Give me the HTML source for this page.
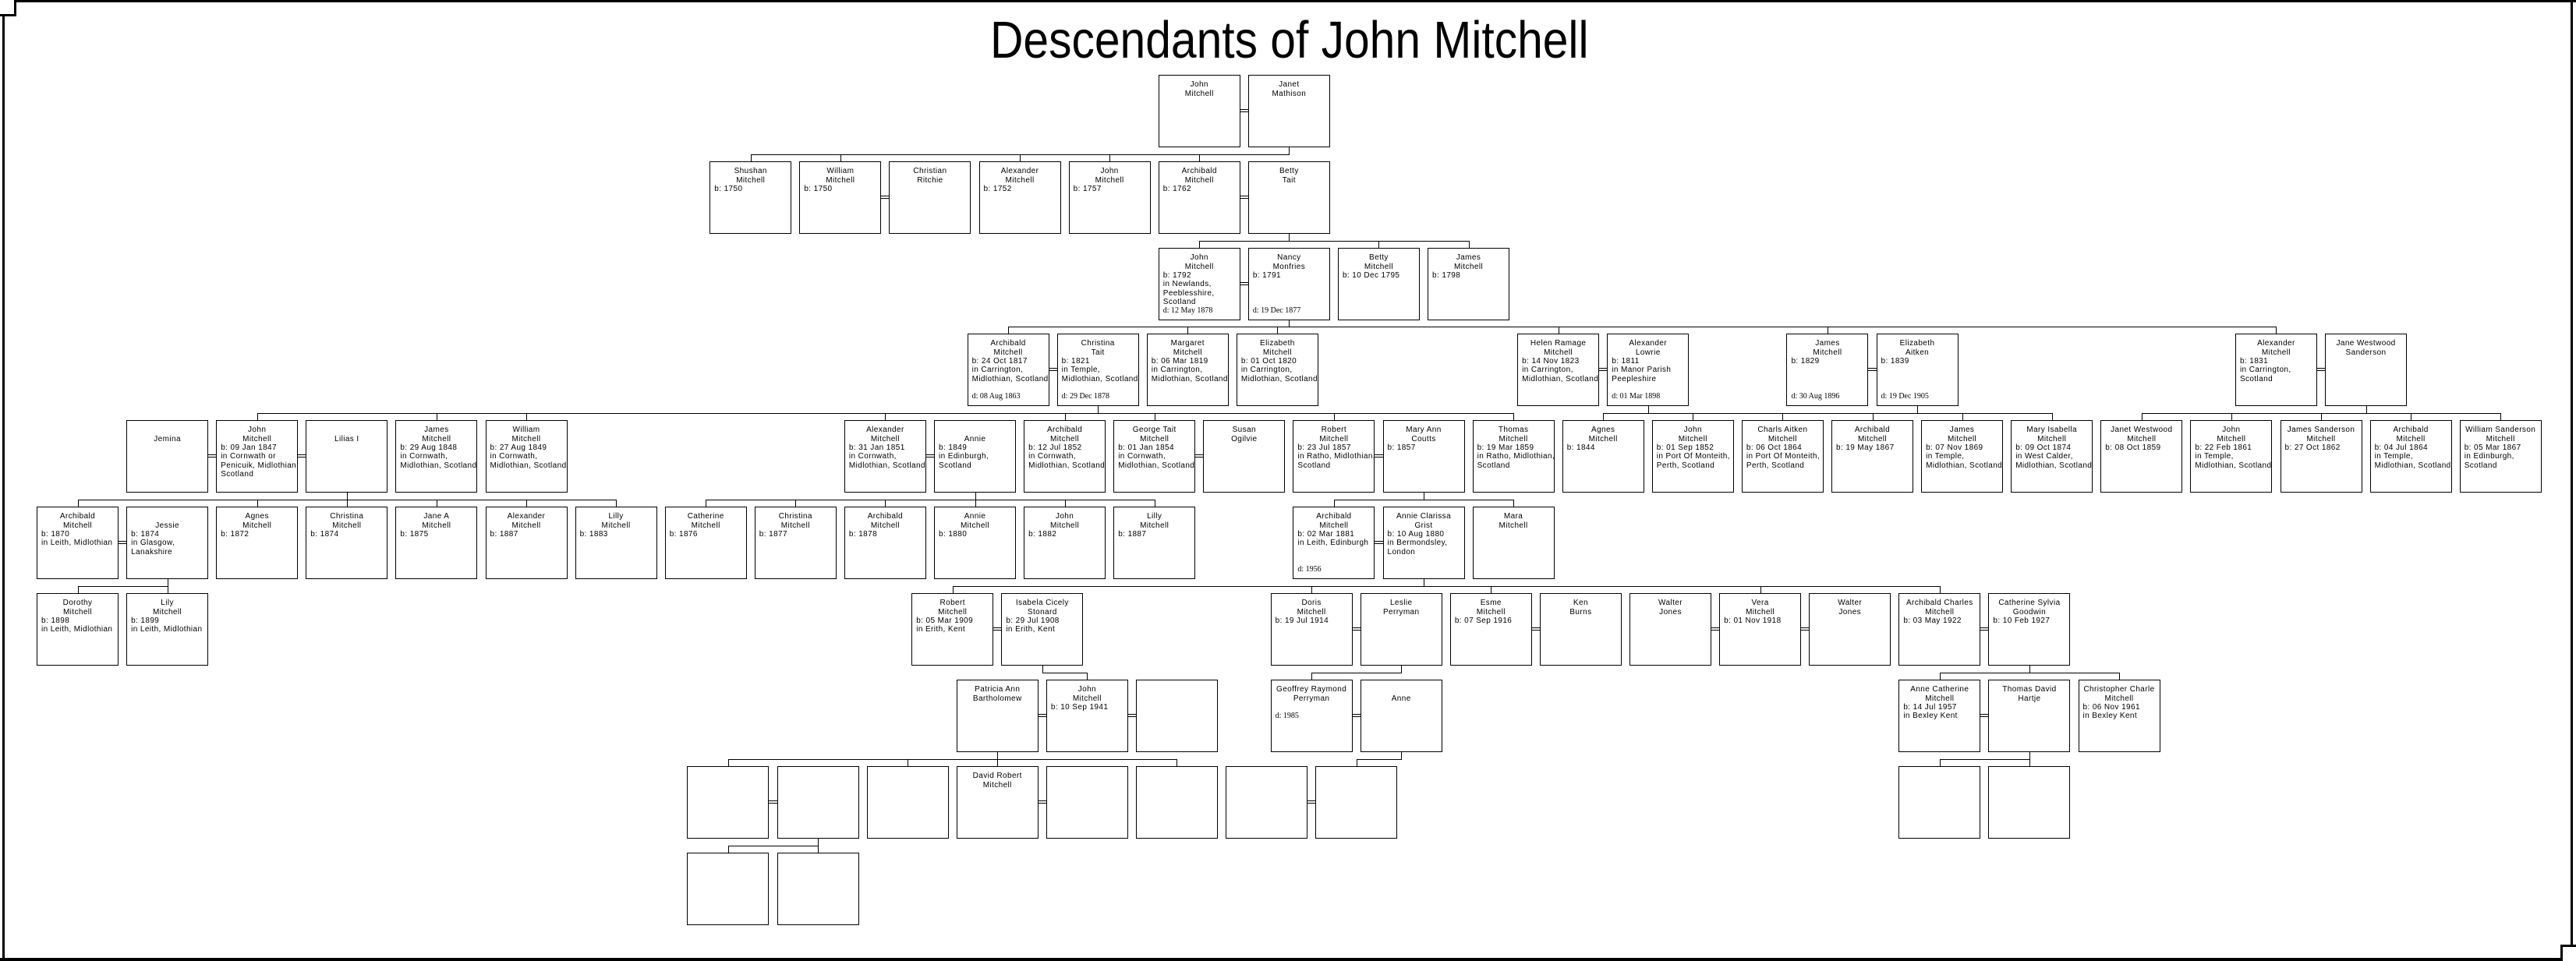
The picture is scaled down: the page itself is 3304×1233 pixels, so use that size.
<!DOCTYPE html>
<html><head><meta charset="utf-8">
<style>
html,body{margin:0;padding:0;background:#fff;}
body{width:3304px;height:1233px;position:relative;overflow:hidden;font-family:"Liberation Sans",Arial,sans-serif;}
.b{position:absolute;width:105px;height:93px;border:1px solid #000;box-sizing:border-box;background:#fff;
left:calc(47px + var(--k)*57.55px);top:calc(95.7px + var(--r)*110.9px);}
.b p{position:absolute;margin:0;left:5px;right:0;font-size:10px;letter-spacing:.4px;line-height:12px;white-space:nowrap;color:#000;}
.b p.c{left:0;text-align:center;}
.b p.s{font-family:"Liberation Serif",serif;letter-spacing:0;}
.t1{top:6px}.t2{top:18px}.t3{top:29px}.t4{top:40px}.t5{top:52px}.t6{top:63px}.t7{top:74px}
.h{position:absolute;height:1px;background:#000;left:calc(99.5px + var(--a)*57.55px);width:calc((var(--z) - var(--a))*57.55px + 1px);top:calc(95.7px + var(--r)*110.9px - 9px);}
.v{position:absolute;width:1px;background:#000;left:calc(99.5px + var(--k)*57.55px);top:calc(95.7px + (var(--r) - 1)*110.9px + 93px);height:calc(110.9px - 93px - 8px);}
.u{position:absolute;width:1px;background:#000;left:calc(99.5px + var(--k)*57.55px);top:calc(95.7px + var(--r)*110.9px - 9px);height:9px;}
.m{position:absolute;height:2px;border-top:1px solid #000;border-bottom:1px solid #000;left:calc(47px + 104px + var(--k)*57.55px);width:12px;top:calc(95.7px + var(--r)*110.9px + 44px);}
.title{position:absolute;left:1270px;top:18px;font-size:67px;line-height:67px;white-space:nowrap;transform:scaleX(0.877);transform-origin:0 0;}
.f{position:absolute;background:#000;}
</style></head><body>
<div class="f" style="left:18px;top:0;width:3286px;height:3px"></div>
<div class="f" style="left:18px;top:0;width:3px;height:21px"></div>
<div class="f" style="left:0;top:18px;width:21px;height:3px"></div>
<div class="f" style="left:3px;top:18px;width:3px;height:1215px"></div>
<div class="f" style="left:0;top:1229px;width:3287px;height:4px"></div>
<div class="f" style="left:3297px;top:0;width:3px;height:1215px"></div>
<div class="f" style="left:3284px;top:1212px;width:20px;height:3px"></div>
<div class="f" style="left:3284px;top:1212px;width:3px;height:21px"></div>

<div class="title">Descendants of John Mitchell</div>

<!-- connectors -->
<div class="v" style="--k:27;--r:1"></div><div class="h" style="--a:15;--z:27;--r:1"></div>
<div class="u" style="--k:15;--r:1"></div><div class="u" style="--k:17;--r:1"></div><div class="u" style="--k:21;--r:1"></div><div class="u" style="--k:23;--r:1"></div><div class="u" style="--k:25;--r:1"></div>

<div class="v" style="--k:27;--r:2"></div><div class="h" style="--a:25;--z:31;--r:2"></div>
<div class="u" style="--k:25;--r:2"></div><div class="u" style="--k:29;--r:2"></div><div class="u" style="--k:31;--r:2"></div>

<div class="v" style="--k:27;--r:3"></div><div class="h" style="--a:20.74;--z:49;--r:3"></div>
<div class="u" style="--k:20.74;--r:3"></div><div class="u" style="--k:24.74;--r:3"></div><div class="u" style="--k:26.74;--r:3"></div><div class="u" style="--k:33;--r:3"></div><div class="u" style="--k:39;--r:3"></div><div class="u" style="--k:49;--r:3"></div>

<div class="v" style="--k:22.74;--r:4"></div><div class="h" style="--a:4;--z:32;--r:4"></div>
<div class="u" style="--k:4;--r:4"></div><div class="u" style="--k:8;--r:4"></div><div class="u" style="--k:10;--r:4"></div><div class="u" style="--k:18;--r:4"></div><div class="u" style="--k:22;--r:4"></div><div class="u" style="--k:24;--r:4"></div><div class="u" style="--k:28;--r:4"></div><div class="u" style="--k:32;--r:4"></div>

<div class="v" style="--k:35;--r:4"></div><div class="v" style="--k:41;--r:4"></div><div class="h" style="--a:34;--z:44;--r:4"></div>
<div class="u" style="--k:34;--r:4"></div><div class="u" style="--k:36;--r:4"></div><div class="u" style="--k:38;--r:4"></div><div class="u" style="--k:40;--r:4"></div><div class="u" style="--k:42;--r:4"></div><div class="u" style="--k:44;--r:4"></div>

<div class="v" style="--k:51;--r:4"></div><div class="h" style="--a:46;--z:54;--r:4"></div>
<div class="u" style="--k:46;--r:4"></div><div class="u" style="--k:48;--r:4"></div><div class="u" style="--k:50;--r:4"></div><div class="u" style="--k:52;--r:4"></div><div class="u" style="--k:54;--r:4"></div>

<div class="v" style="--k:6;--r:5"></div><div class="h" style="--a:0;--z:12;--r:5"></div>
<div class="u" style="--k:0;--r:5"></div><div class="u" style="--k:4;--r:5"></div><div class="u" style="--k:6;--r:5"></div><div class="u" style="--k:8;--r:5"></div><div class="u" style="--k:10;--r:5"></div><div class="u" style="--k:12;--r:5"></div>

<div class="v" style="--k:20;--r:5"></div><div class="h" style="--a:14;--z:24;--r:5"></div>
<div class="u" style="--k:14;--r:5"></div><div class="u" style="--k:16;--r:5"></div><div class="u" style="--k:18;--r:5"></div><div class="u" style="--k:20;--r:5"></div><div class="u" style="--k:22;--r:5"></div><div class="u" style="--k:24;--r:5"></div>

<div class="v" style="--k:30;--r:5"></div><div class="h" style="--a:28;--z:32;--r:5"></div>
<div class="u" style="--k:28;--r:5"></div><div class="u" style="--k:32;--r:5"></div>

<div class="v" style="--k:2;--r:6"></div><div class="h" style="--a:0;--z:2;--r:6"></div>
<div class="u" style="--k:0;--r:6"></div><div class="u" style="--k:2;--r:6"></div>

<div class="v" style="--k:30;--r:6"></div><div class="h" style="--a:19.5;--z:41.5;--r:6"></div>
<div class="u" style="--k:19.5;--r:6"></div><div class="u" style="--k:27.5;--r:6"></div><div class="u" style="--k:31.5;--r:6"></div><div class="u" style="--k:37.5;--r:6"></div><div class="u" style="--k:41.5;--r:6"></div>

<div class="v" style="--k:21.5;--r:7"></div><div class="h" style="--a:21.5;--z:22.5;--r:7"></div><div class="u" style="--k:22.5;--r:7"></div>
<div class="v" style="--k:29.5;--r:7"></div><div class="h" style="--a:27.5;--z:29.5;--r:7"></div><div class="u" style="--k:27.5;--r:7"></div>
<div class="v" style="--k:43.5;--r:7"></div><div class="h" style="--a:41.5;--z:45.5;--r:7"></div><div class="u" style="--k:41.5;--r:7"></div><div class="u" style="--k:45.5;--r:7"></div>

<div class="v" style="--k:20.5;--r:8"></div><div class="h" style="--a:14.5;--z:24.5;--r:8"></div>
<div class="u" style="--k:14.5;--r:8"></div><div class="u" style="--k:18.5;--r:8"></div><div class="u" style="--k:20.5;--r:8"></div><div class="u" style="--k:24.5;--r:8"></div>
<div class="v" style="--k:29.5;--r:8"></div><div class="h" style="--a:28.5;--z:29.5;--r:8"></div><div class="u" style="--k:28.5;--r:8"></div>
<div class="v" style="--k:43.5;--r:8"></div><div class="h" style="--a:41.5;--z:43.5;--r:8"></div><div class="u" style="--k:41.5;--r:8"></div><div class="u" style="--k:43.5;--r:8"></div>

<div class="v" style="--k:16.5;--r:9"></div><div class="h" style="--a:14.5;--z:16.5;--r:9"></div>
<div class="u" style="--k:14.5;--r:9"></div><div class="u" style="--k:16.5;--r:9"></div>

<!-- marriages -->
<div class="m" style="--k:25;--r:0"></div>
<div class="m" style="--k:17;--r:1"></div><div class="m" style="--k:25;--r:1"></div>
<div class="m" style="--k:25;--r:2"></div>
<div class="m" style="--k:20.74;--r:3"></div><div class="m" style="--k:33;--r:3"></div><div class="m" style="--k:39;--r:3"></div><div class="m" style="--k:49;--r:3"></div>
<div class="m" style="--k:2;--r:4"></div><div class="m" style="--k:4;--r:4"></div><div class="m" style="--k:18;--r:4"></div><div class="m" style="--k:24;--r:4"></div><div class="m" style="--k:28;--r:4"></div>
<div class="m" style="--k:0;--r:5"></div><div class="m" style="--k:28;--r:5"></div>
<div class="m" style="--k:19.5;--r:6"></div><div class="m" style="--k:27.5;--r:6"></div><div class="m" style="--k:31.5;--r:6"></div><div class="m" style="--k:35.5;--r:6"></div><div class="m" style="--k:37.5;--r:6"></div><div class="m" style="--k:41.5;--r:6"></div>
<div class="m" style="--k:20.5;--r:7"></div><div class="m" style="--k:22.5;--r:7"></div><div class="m" style="--k:27.5;--r:7"></div><div class="m" style="--k:41.5;--r:7"></div>
<div class="m" style="--k:14.5;--r:8"></div><div class="m" style="--k:20.5;--r:8"></div><div class="m" style="--k:26.5;--r:8"></div>

<!-- row 0 -->
<div class="b" style="--k:25;--r:0"><p class="c t1">John</p><p class="c t2">Mitchell</p></div>
<div class="b" style="--k:27;--r:0"><p class="c t1">Janet</p><p class="c t2">Mathison</p></div>
<!-- row 1 -->
<div class="b" style="--k:15;--r:1"><p class="c t1">Shushan</p><p class="c t2">Mitchell</p><p class="t3">b: 1750</p></div>
<div class="b" style="--k:17;--r:1"><p class="c t1">William</p><p class="c t2">Mitchell</p><p class="t3">b: 1750</p></div>
<div class="b" style="--k:19;--r:1"><p class="c t1">Christian</p><p class="c t2">Ritchie</p></div>
<div class="b" style="--k:21;--r:1"><p class="c t1">Alexander</p><p class="c t2">Mitchell</p><p class="t3">b: 1752</p></div>
<div class="b" style="--k:23;--r:1"><p class="c t1">John</p><p class="c t2">Mitchell</p><p class="t3">b: 1757</p></div>
<div class="b" style="--k:25;--r:1"><p class="c t1">Archibald</p><p class="c t2">Mitchell</p><p class="t3">b: 1762</p></div>
<div class="b" style="--k:27;--r:1"><p class="c t1">Betty</p><p class="c t2">Tait</p></div>
<!-- row 2 -->
<div class="b" style="--k:25;--r:2"><p class="c t1">John</p><p class="c t2">Mitchell</p><p class="t3">b: 1792</p><p class="t4">in Newlands,</p><p class="t5">Peeblesshire,</p><p class="t6">Scotland</p><p class="t7 s">d: 12 May 1878</p></div>
<div class="b" style="--k:27;--r:2"><p class="c t1">Nancy</p><p class="c t2">Monfries</p><p class="t3">b: 1791</p><p class="t7 s">d: 19 Dec 1877</p></div>
<div class="b" style="--k:29;--r:2"><p class="c t1">Betty</p><p class="c t2">Mitchell</p><p class="t3">b: 10 Dec 1795</p></div>
<div class="b" style="--k:31;--r:2"><p class="c t1">James</p><p class="c t2">Mitchell</p><p class="t3">b: 1798</p></div>
<!-- row 3 -->
<div class="b" style="--k:20.74;--r:3"><p class="c t1">Archibald</p><p class="c t2">Mitchell</p><p class="t3">b: 24 Oct 1817</p><p class="t4">in Carrington,</p><p class="t5">Midlothian, Scotland</p><p class="t7 s">d: 08 Aug 1863</p></div>
<div class="b" style="--k:22.74;--r:3"><p class="c t1">Christina</p><p class="c t2">Tait</p><p class="t3">b: 1821</p><p class="t4">in Temple,</p><p class="t5">Midlothian, Scotland</p><p class="t7 s">d: 29 Dec 1878</p></div>
<div class="b" style="--k:24.74;--r:3"><p class="c t1">Margaret</p><p class="c t2">Mitchell</p><p class="t3">b: 06 Mar 1819</p><p class="t4">in Carrington,</p><p class="t5">Midlothian, Scotland</p></div>
<div class="b" style="--k:26.74;--r:3"><p class="c t1">Elizabeth</p><p class="c t2">Mitchell</p><p class="t3">b: 01 Oct 1820</p><p class="t4">in Carrington,</p><p class="t5">Midlothian, Scotland</p></div>
<div class="b" style="--k:33;--r:3"><p class="c t1">Helen Ramage</p><p class="c t2">Mitchell</p><p class="t3">b: 14 Nov 1823</p><p class="t4">in Carrington,</p><p class="t5">Midlothian, Scotland</p></div>
<div class="b" style="--k:35;--r:3"><p class="c t1">Alexander</p><p class="c t2">Lowrie</p><p class="t3">b: 1811</p><p class="t4">in Manor Parish</p><p class="t5">Peepleshire</p><p class="t7 s">d: 01 Mar 1898</p></div>
<div class="b" style="--k:39;--r:3"><p class="c t1">James</p><p class="c t2">Mitchell</p><p class="t3">b: 1829</p><p class="t7 s">d: 30 Aug 1896</p></div>
<div class="b" style="--k:41;--r:3"><p class="c t1">Elizabeth</p><p class="c t2">Aitken</p><p class="t3">b: 1839</p><p class="t7 s">d: 19 Dec 1905</p></div>
<div class="b" style="--k:49;--r:3"><p class="c t1">Alexander</p><p class="c t2">Mitchell</p><p class="t3">b: 1831</p><p class="t4">in Carrington,</p><p class="t5">Scotland</p></div>
<div class="b" style="--k:51;--r:3"><p class="c t1">Jane Westwood</p><p class="c t2">Sanderson</p></div>
<!-- row 4 -->
<div class="b" style="--k:2;--r:4"><p class="c t2">Jemina</p></div>
<div class="b" style="--k:4;--r:4"><p class="c t1">John</p><p class="c t2">Mitchell</p><p class="t3">b: 09 Jan 1847</p><p class="t4">in Cornwath or</p><p class="t5">Penicuik, Midlothian,</p><p class="t6">Scotland</p></div>
<div class="b" style="--k:6;--r:4"><p class="c t2">Lilias I</p></div>
<div class="b" style="--k:8;--r:4"><p class="c t1">James</p><p class="c t2">Mitchell</p><p class="t3">b: 29 Aug 1848</p><p class="t4">in Cornwath,</p><p class="t5">Midlothian, Scotland</p></div>
<div class="b" style="--k:10;--r:4"><p class="c t1">William</p><p class="c t2">Mitchell</p><p class="t3">b: 27 Aug 1849</p><p class="t4">in Cornwath,</p><p class="t5">Midlothian, Scotland</p></div>
<div class="b" style="--k:18;--r:4"><p class="c t1">Alexander</p><p class="c t2">Mitchell</p><p class="t3">b: 31 Jan 1851</p><p class="t4">in Cornwath,</p><p class="t5">Midlothian, Scotland</p></div>
<div class="b" style="--k:20;--r:4"><p class="c t2">Annie</p><p class="t3">b: 1849</p><p class="t4">in Edinburgh,</p><p class="t5">Scotland</p></div>
<div class="b" style="--k:22;--r:4"><p class="c t1">Archibald</p><p class="c t2">Mitchell</p><p class="t3">b: 12 Jul 1852</p><p class="t4">in Cornwath,</p><p class="t5">Midlothian, Scotland</p></div>
<div class="b" style="--k:24;--r:4"><p class="c t1">George Tait</p><p class="c t2">Mitchell</p><p class="t3">b: 01 Jan 1854</p><p class="t4">in Cornwath,</p><p class="t5">Midlothian, Scotland</p></div>
<div class="b" style="--k:26;--r:4"><p class="c t1">Susan</p><p class="c t2">Ogilvie</p></div>
<div class="b" style="--k:28;--r:4"><p class="c t1">Robert</p><p class="c t2">Mitchell</p><p class="t3">b: 23 Jul 1857</p><p class="t4">in Ratho, Midlothian,</p><p class="t5">Scotland</p></div>
<div class="b" style="--k:30;--r:4"><p class="c t1">Mary Ann</p><p class="c t2">Coutts</p><p class="t3">b: 1857</p></div>
<div class="b" style="--k:32;--r:4"><p class="c t1">Thomas</p><p class="c t2">Mitchell</p><p class="t3">b: 19 Mar 1859</p><p class="t4">in Ratho, Midlothian,</p><p class="t5">Scotland</p></div>
<div class="b" style="--k:34;--r:4"><p class="c t1">Agnes</p><p class="c t2">Mitchell</p><p class="t3">b: 1844</p></div>
<div class="b" style="--k:36;--r:4"><p class="c t1">John</p><p class="c t2">Mitchell</p><p class="t3">b: 01 Sep 1852</p><p class="t4">in Port Of Monteith,</p><p class="t5">Perth, Scotland</p></div>
<div class="b" style="--k:38;--r:4"><p class="c t1">Charls Aitken</p><p class="c t2">Mitchell</p><p class="t3">b: 06 Oct 1864</p><p class="t4">in Port Of Monteith,</p><p class="t5">Perth, Scotland</p></div>
<div class="b" style="--k:40;--r:4"><p class="c t1">Archibald</p><p class="c t2">Mitchell</p><p class="t3">b: 19 May 1867</p></div>
<div class="b" style="--k:42;--r:4"><p class="c t1">James</p><p class="c t2">Mitchell</p><p class="t3">b: 07 Nov 1869</p><p class="t4">in Temple,</p><p class="t5">Midlothian, Scotland</p></div>
<div class="b" style="--k:44;--r:4"><p class="c t1">Mary Isabella</p><p class="c t2">Mitchell</p><p class="t3">b: 09 Oct 1874</p><p class="t4">in West Calder,</p><p class="t5">Midlothian, Scotland</p></div>
<div class="b" style="--k:46;--r:4"><p class="c t1">Janet Westwood</p><p class="c t2">Mitchell</p><p class="t3">b: 08 Oct 1859</p></div>
<div class="b" style="--k:48;--r:4"><p class="c t1">John</p><p class="c t2">Mitchell</p><p class="t3">b: 22 Feb 1861</p><p class="t4">in Temple,</p><p class="t5">Midlothian, Scotland</p></div>
<div class="b" style="--k:50;--r:4"><p class="c t1">James Sanderson</p><p class="c t2">Mitchell</p><p class="t3">b: 27 Oct 1862</p></div>
<div class="b" style="--k:52;--r:4"><p class="c t1">Archibald</p><p class="c t2">Mitchell</p><p class="t3">b: 04 Jul 1864</p><p class="t4">in Temple,</p><p class="t5">Midlothian, Scotland</p></div>
<div class="b" style="--k:54;--r:4"><p class="c t1">William Sanderson</p><p class="c t2">Mitchell</p><p class="t3">b: 05 Mar 1867</p><p class="t4">in Edinburgh,</p><p class="t5">Scotland</p></div>
<!-- row 5 -->
<div class="b" style="--k:0;--r:5"><p class="c t1">Archibald</p><p class="c t2">Mitchell</p><p class="t3">b: 1870</p><p class="t4">in Leith, Midlothian</p></div>
<div class="b" style="--k:2;--r:5"><p class="c t2">Jessie</p><p class="t3">b: 1874</p><p class="t4">in Glasgow,</p><p class="t5">Lanakshire</p></div>
<div class="b" style="--k:4;--r:5"><p class="c t1">Agnes</p><p class="c t2">Mitchell</p><p class="t3">b: 1872</p></div>
<div class="b" style="--k:6;--r:5"><p class="c t1">Christina</p><p class="c t2">Mitchell</p><p class="t3">b: 1874</p></div>
<div class="b" style="--k:8;--r:5"><p class="c t1">Jane A</p><p class="c t2">Mitchell</p><p class="t3">b: 1875</p></div>
<div class="b" style="--k:10;--r:5"><p class="c t1">Alexander</p><p class="c t2">Mitchell</p><p class="t3">b: 1887</p></div>
<div class="b" style="--k:12;--r:5"><p class="c t1">Lilly</p><p class="c t2">Mitchell</p><p class="t3">b: 1883</p></div>
<div class="b" style="--k:14;--r:5"><p class="c t1">Catherine</p><p class="c t2">Mitchell</p><p class="t3">b: 1876</p></div>
<div class="b" style="--k:16;--r:5"><p class="c t1">Christina</p><p class="c t2">Mitchell</p><p class="t3">b: 1877</p></div>
<div class="b" style="--k:18;--r:5"><p class="c t1">Archibald</p><p class="c t2">Mitchell</p><p class="t3">b: 1878</p></div>
<div class="b" style="--k:20;--r:5"><p class="c t1">Annie</p><p class="c t2">Mitchell</p><p class="t3">b: 1880</p></div>
<div class="b" style="--k:22;--r:5"><p class="c t1">John</p><p class="c t2">Mitchell</p><p class="t3">b: 1882</p></div>
<div class="b" style="--k:24;--r:5"><p class="c t1">Lilly</p><p class="c t2">Mitchell</p><p class="t3">b: 1887</p></div>
<div class="b" style="--k:28;--r:5"><p class="c t1">Archibald</p><p class="c t2">Mitchell</p><p class="t3">b: 02 Mar 1881</p><p class="t4">in Leith, Edinburgh</p><p class="t7 s">d: 1956</p></div>
<div class="b" style="--k:30;--r:5"><p class="c t1">Annie Clarissa</p><p class="c t2">Grist</p><p class="t3">b: 10 Aug 1880</p><p class="t4">in Bermondsley,</p><p class="t5">London</p></div>
<div class="b" style="--k:32;--r:5"><p class="c t1">Mara</p><p class="c t2">Mitchell</p></div>
<!-- row 6 -->
<div class="b" style="--k:0;--r:6"><p class="c t1">Dorothy</p><p class="c t2">Mitchell</p><p class="t3">b: 1898</p><p class="t4">in Leith, Midlothian</p></div>
<div class="b" style="--k:2;--r:6"><p class="c t1">Lily</p><p class="c t2">Mitchell</p><p class="t3">b: 1899</p><p class="t4">in Leith, Midlothian</p></div>
<div class="b" style="--k:19.5;--r:6"><p class="c t1">Robert</p><p class="c t2">Mitchell</p><p class="t3">b: 05 Mar 1909</p><p class="t4">in Erith, Kent</p></div>
<div class="b" style="--k:21.5;--r:6"><p class="c t1">Isabela Cicely</p><p class="c t2">Stonard</p><p class="t3">b: 29 Jul 1908</p><p class="t4">in Erith, Kent</p></div>
<div class="b" style="--k:27.5;--r:6"><p class="c t1">Doris</p><p class="c t2">Mitchell</p><p class="t3">b: 19 Jul 1914</p></div>
<div class="b" style="--k:29.5;--r:6"><p class="c t1">Leslie</p><p class="c t2">Perryman</p></div>
<div class="b" style="--k:31.5;--r:6"><p class="c t1">Esme</p><p class="c t2">Mitchell</p><p class="t3">b: 07 Sep 1916</p></div>
<div class="b" style="--k:33.5;--r:6"><p class="c t1">Ken</p><p class="c t2">Burns</p></div>
<div class="b" style="--k:35.5;--r:6"><p class="c t1">Walter</p><p class="c t2">Jones</p></div>
<div class="b" style="--k:37.5;--r:6"><p class="c t1">Vera</p><p class="c t2">Mitchell</p><p class="t3">b: 01 Nov 1918</p></div>
<div class="b" style="--k:39.5;--r:6"><p class="c t1">Walter</p><p class="c t2">Jones</p></div>
<div class="b" style="--k:41.5;--r:6"><p class="c t1">Archibald Charles</p><p class="c t2">Mitchell</p><p class="t3">b: 03 May 1922</p></div>
<div class="b" style="--k:43.5;--r:6"><p class="c t1">Catherine Sylvia</p><p class="c t2">Goodwin</p><p class="t3">b: 10 Feb 1927</p></div>
<!-- row 7 -->
<div class="b" style="--k:20.5;--r:7"><p class="c t1">Patricia Ann</p><p class="c t2">Bartholomew</p></div>
<div class="b" style="--k:22.5;--r:7"><p class="c t1">John</p><p class="c t2">Mitchell</p><p class="t3">b: 10 Sep 1941</p></div>
<div class="b" style="--k:24.5;--r:7"></div>
<div class="b" style="--k:27.5;--r:7"><p class="c t1">Geoffrey Raymond</p><p class="c t2">Perryman</p><p class="t4 s">d: 1985</p></div>
<div class="b" style="--k:29.5;--r:7"><p class="c t2">Anne</p></div>
<div class="b" style="--k:41.5;--r:7"><p class="c t1">Anne Catherine</p><p class="c t2">Mitchell</p><p class="t3">b: 14 Jul 1957</p><p class="t4">in Bexley Kent</p></div>
<div class="b" style="--k:43.5;--r:7"><p class="c t1">Thomas David</p><p class="c t2">Hartje</p></div>
<div class="b" style="--k:45.5;--r:7"><p class="c t1">Christopher Charle</p><p class="c t2">Mitchell</p><p class="t3">b: 06 Nov 1961</p><p class="t4">in Bexley Kent</p></div>
<!-- row 8 -->
<div class="b" style="--k:14.5;--r:8"></div>
<div class="b" style="--k:16.5;--r:8"></div>
<div class="b" style="--k:18.5;--r:8"></div>
<div class="b" style="--k:20.5;--r:8"><p class="c t1">David Robert</p><p class="c t2">Mitchell</p></div>
<div class="b" style="--k:22.5;--r:8"></div>
<div class="b" style="--k:24.5;--r:8"></div>
<div class="b" style="--k:26.5;--r:8"></div>
<div class="b" style="--k:28.5;--r:8"></div>
<div class="b" style="--k:41.5;--r:8"></div>
<div class="b" style="--k:43.5;--r:8"></div>
<!-- row 9 -->
<div class="b" style="--k:14.5;--r:9"></div>
<div class="b" style="--k:16.5;--r:9"></div>
</body></html>
